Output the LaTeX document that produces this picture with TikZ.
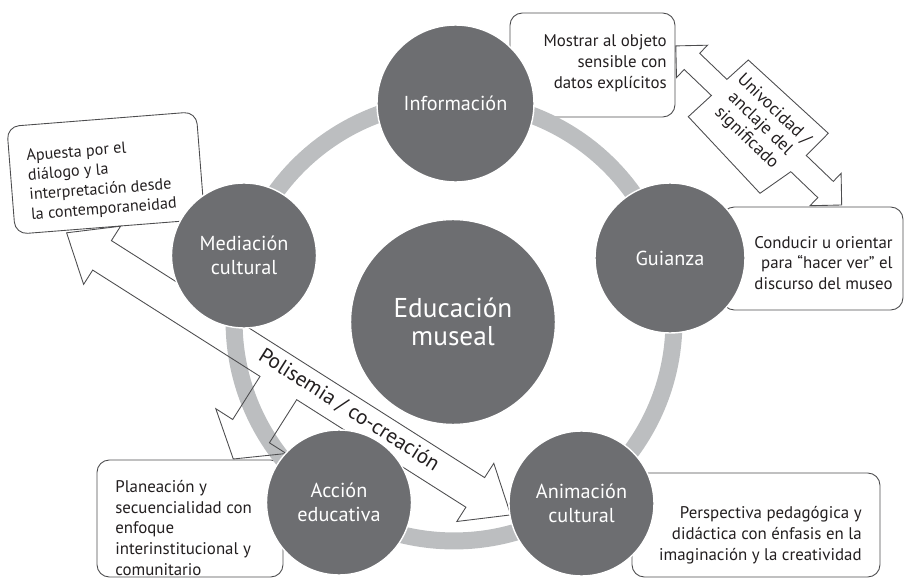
\documentclass[tikz,border=0pt]{standalone}
\usepackage{fontspec}
\setmainfont{PT Sans}
\definecolor{discgray}{HTML}{6D6E71}
\definecolor{ringgray}{HTML}{BCBEC0}
\definecolor{linegray}{HTML}{4D4D4F}
\definecolor{inkgray}{HTML}{231F20}
\tikzset{
  disc/.style={circle,fill=discgray,draw=white,line width=0.8pt,inner sep=0pt,
               text=white,align=center,font=\fontsize{11.5}{13.5}\selectfont},
  ring/.style={draw=ringgray,line width=0.34cm},
  note/.style={draw=linegray,line width=0.5pt,fill=white,rounded corners=7pt,inner sep=0pt},
  notetext/.style={text=inkgray,inner sep=0pt,font=\fontsize{9.6}{11.8}\selectfont},
  barrow/.style={draw=linegray,line width=0.5pt,line join=miter},
}

\begin{document}
\begin{tikzpicture}[x=0.02cm,y=-0.02cm]
  \useasboundingbox (0,0) rectangle (904,578);
  % ===== note boxes =====
  \node[note,minimum width=3.3cm,minimum height=2.08cm] (mostrar) at (592.5,65){};
  \node[notetext,align=right,anchor=east] (mostrar-t) at (667,63){Mostrar al objeto\\sensible con\\datos explícitos};
  \node[note,minimum width=3.62cm,minimum height=2.06cm] (conducir) at (812.5,258.5){};
  \node[notetext,align=right,anchor=east] (conducir-t) at (893,263){Conducir u orientar\\para “hacer ver” el\\discurso del museo};
  \begin{scope}[shift={(105.75,173)},rotate=4.5]
    \node[note,rotate=4.5,minimum width=3.8cm,minimum height=2.16cm] (apuesta) at (0,0){};
    \node[notetext,rotate=4.5,align=left,anchor=west,font=\fontsize{9.2}{11.2}\selectfont] (apuesta-t) at (-78,7){Apuesta por el\\diálogo y la\\interpretación desde\\la contemporaneidad};
  \end{scope}
  \node[note,minimum width=3.72cm,minimum height=2.34cm] (planeacion) at (190,518.5){};
  \node[notetext,align=left,anchor=west] (planeacion-t) at (115,528){Planeación y\\secuencialidad con\\enfoque\\interinstitucional y\\comunitario};
  \node[note,minimum width=4.96cm,minimum height=2.08cm] (perspectiva) at (756,525){};
  \node[notetext,align=right,anchor=east] (perspectiva-t) at (862,535){Perspectiva pedagógica y\\didáctica con énfasis en la\\imaginación y la creatividad};

  % ===== ring behind the discs =====
  \draw[ring] (454,321) circle (4.4cm);

  % ===== block arrows (outline only) =====
  % polisemia: double arrow with a branch down to the planeacion box
  \draw[barrow] (66.6,232.8) -- (120.6,226.2) -- (111.4,240.6) -- (484.6,477.6) -- (493.8,463.3)
    -- (510.7,514.9) -- (456.8,521.5) -- (465.9,507.2) -- (296.7,399.7) -- (269.4,442.8)
    -- (286.2,453.5) -- (233.3,459.0) -- (215.8,408.7) -- (232.7,419.5) -- (260.0,376.4)
    -- (92.7,270.1) -- (83.6,284.4) -- cycle;
  % univocidad: double arrow with a wide middle for the label
  \draw[barrow] (675.8,45.9) -- (707.5,45.2) -- (699.7,53.3) -- (726.9,79.4) -- (748.3,60.0)
    -- (828.3,133.3) -- (806.3,155.5) -- (833.3,181.4) -- (841.1,173.3) -- (841.7,205.0)
    -- (810.0,205.7) -- (817.8,197.6) -- (790.8,171.7) -- (760.0,193.3) -- (688.3,116.7)
    -- (711.4,95.5) -- (684.2,69.5) -- (676.5,77.6) -- cycle;

  % ===== discs =====
  \node[disc,minimum size=4.1cm,font=\fontsize{15.5}{16}\selectfont] (edu) at (453,322){Educación\\museal};
  \node[disc,minimum size=3.14cm] (info) at (455.5,103.5){Información};
  \node[disc,minimum size=3.0cm] (guia) at (670,258){Guianza};
  \node[disc,minimum size=2.9cm] (anim) at (581.5,503.5){Animación\\cultural};
  \node[disc,minimum size=2.9cm] (accion) at (339,502.5){Acción\\educativa};
  \node[disc,minimum size=2.9cm] (medi) at (244,255.5){Mediación\\cultural};

  % arrow labels
  \node[text=inkgray,inner sep=0pt,rotate=-32.4,font=\fontsize{12}{14}\selectfont] (poli-t) at (349,410){Polisemia / co-creación};
  \node[text=inkgray,inner sep=0pt,rotate=-44,align=center,font=\fontsize{10}{11.2}\selectfont] (univ-t) at (760,124){Univocidad /\\anclaje del\\significado};
\end{tikzpicture}
\end{document}
